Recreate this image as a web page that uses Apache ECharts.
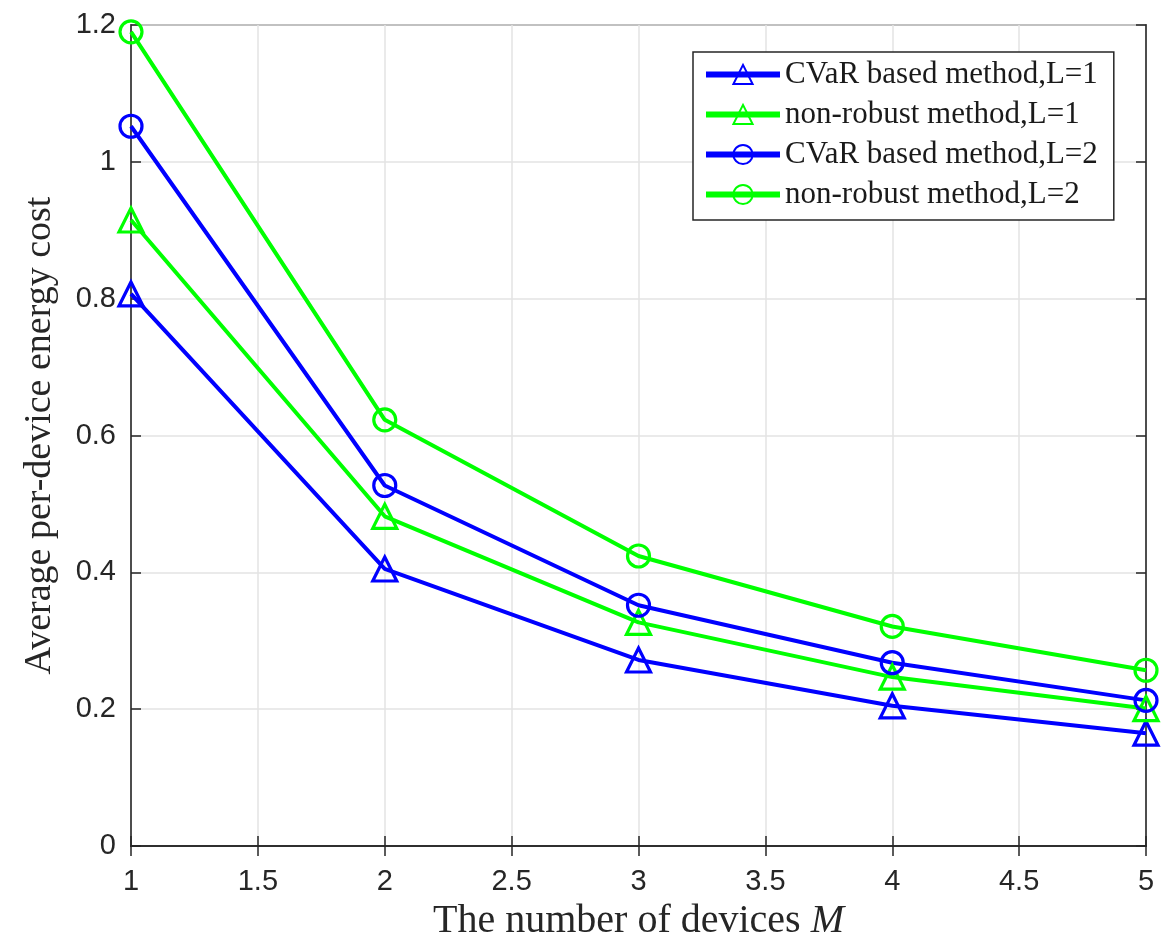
<!DOCTYPE html>
<html>
<head>
<meta charset="utf-8">
<script src="https://cdn.jsdelivr.net/npm/echarts@6/dist/echarts.min.js"></script>
<style>html,body{margin:0;padding:0;background:#fff;}#c{width:1175px;height:946px;}</style>
</head>
<body>
<div id="c"></div>
<script>
const xValues = [1, 2, 3, 4, 5];
const cvarL1 = [0.807, 0.405, 0.272, 0.205, 0.165];
const nonRobustL1 = [0.915, 0.482, 0.327, 0.247, 0.201];
const cvarL2 = [1.052, 0.527, 0.352, 0.268, 0.213];
const nonRobustL2 = [1.19, 0.623, 0.424, 0.321, 0.257];
const seriesNames = ['CVaR based method,L=1', 'non-robust method,L=1', 'CVaR based method,L=2', 'non-robust method,L=2'];

const BLUE = '#0000ff', GREEN = '#00ff00';
function mk(name, vals, color, symbol) {
  return {
    name: name, type: 'line',
    data: xValues.map((x, i) => [x, vals[i]]),
    symbol: symbol, symbolSize: symbol === 'circle' ? 22 : 24,
    showAllSymbol: true,
    lineStyle: { color: color, width: 4 },
    itemStyle: { color: 'rgba(0,0,0,0)', borderColor: color, borderWidth: 3.2 },
    emphasis: { disabled: true },
    animation: false
  };
}
const chart = echarts.init(document.getElementById('c'));
const tickFont = { fontFamily: 'Liberation Sans, Arial, sans-serif', fontSize: 29, color: '#262626' };
chart.setOption({
  backgroundColor: '#fff',
  animation: false,
  grid: { left: 131, right: 29, top: 25, bottom: 84, show: true, borderColor: '#262626', borderWidth: 1.5, backgroundColor: 'transparent' },
  legend: {
    orient: 'vertical', left: 693, top: 52,
    data: seriesNames,
    itemWidth: 74, itemHeight: 24, itemGap: 9,
    lineStyle: { width: 6 },
    backgroundColor: '#fff', borderColor: '#262626', borderWidth: 1.5,
    padding: [7, 16, 10, 10], borderRadius: 0,
    textStyle: { fontFamily: 'Liberation Serif, Times New Roman, serif', fontSize: 31, lineHeight: 24, color: '#1a1a1a' },
    selectedMode: false
  },
  xAxis: [{
    type: 'value', min: 1, max: 5, interval: 0.5,
    name: 'The number of devices {i|M}', nameLocation: 'middle', nameGap: 54,
    nameTextStyle: { fontFamily: 'Liberation Serif, serif', fontSize: 40, color: '#262626',
      rich: { i: { fontFamily: 'Liberation Serif, serif', fontStyle: 'italic', fontSize: 40, color: '#262626' } } },
    axisLine: { show: true, lineStyle: { color: '#262626', width: 1.5 } },
    axisTick: { show: true, inside: true, length: 10, lineStyle: { color: '#262626', width: 1.5 } },
    axisLabel: Object.assign({ margin: 21 }, tickFont),
    splitLine: { show: true, lineStyle: { color: '#e3e3e3', width: 1.5 } }
  }, {
    type: 'value', min: 1, max: 5, interval: 0.5, position: 'top',
    axisLine: { show: true, lineStyle: { color: '#262626', width: 1.5 } },
    axisTick: { show: true, inside: true, length: 10, lineStyle: { color: '#262626', width: 1.5 } },
    axisLabel: { show: false }, splitLine: { show: false }
  }],
  yAxis: [{
    type: 'value', min: 0, max: 1.2, interval: 0.2,
    name: 'Average per-device energy cost', nameLocation: 'middle', nameGap: 72, nameRotate: 90,
    nameTextStyle: { fontFamily: 'Liberation Serif, serif', fontSize: 38, color: '#262626' },
    axisLine: { show: true, lineStyle: { color: '#262626', width: 1.5 } },
    axisTick: { show: true, inside: true, length: 10, lineStyle: { color: '#262626', width: 1.5 } },
    axisLabel: Object.assign({ margin: 15 }, tickFont),
    splitLine: { show: true, lineStyle: { color: '#e3e3e3', width: 1.5 } }
  }, {
    type: 'value', min: 0, max: 1.2, interval: 0.2, position: 'right',
    axisLine: { show: true, lineStyle: { color: '#262626', width: 1.5 } },
    axisTick: { show: true, inside: true, length: 10, lineStyle: { color: '#262626', width: 1.5 } },
    axisLabel: { show: false }, splitLine: { show: false }
  }],
  series: [
    mk(seriesNames[0], cvarL1, BLUE, 'triangle'),
    mk(seriesNames[1], nonRobustL1, GREEN, 'triangle'),
    mk(seriesNames[2], cvarL2, BLUE, 'circle'),
    mk(seriesNames[3], nonRobustL2, GREEN, 'circle')
  ]
});
</script>
</body>
</html>
